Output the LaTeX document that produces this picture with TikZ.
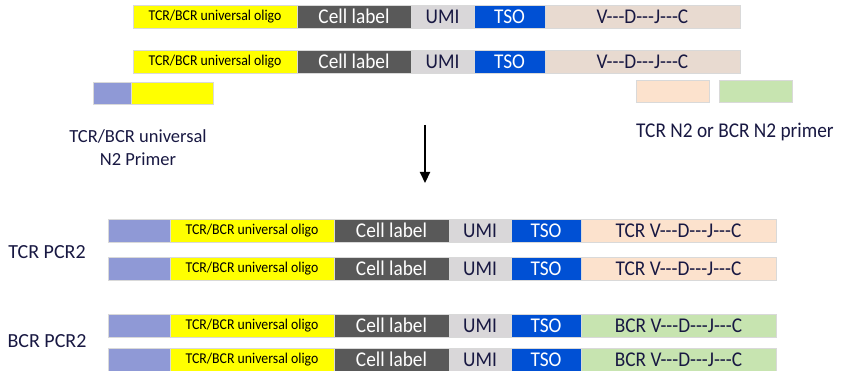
\documentclass[tikz,border=0pt]{standalone}
\usepackage{fontspec}
\setmainfont{Carlito}
\newfontfamily\barfont{Carlito}[FakeStretch=0.92]
\usetikzlibrary{arrows.meta}
\definecolor{ink}{RGB}{24,24,66}
\definecolor{cyel}{RGB}{255,255,0}
\definecolor{ccell}{RGB}{89,89,89}
\definecolor{cumi}{RGB}{217,215,217}
\definecolor{ctso}{RGB}{0,80,212}
\definecolor{cvdj}{RGB}{232,218,208}
\definecolor{cpeach}{RGB}{252,226,205}
\definecolor{cgreen}{RGB}{199,228,176}
\definecolor{cpurp}{RGB}{143,153,214}
\newcommand\seg[6]{\node[seg,#5,minimum width={(#3-#2)*1pt}] (#1) at (#2,#4) {#6};}
\newcommand\vdjc{V-{}-{}-D-{}-{}-J-{}-{}-C}
\begin{document}
\begin{tikzpicture}[x=1pt,y=-1pt,
  seg/.style={draw=black!15,line width=0.4pt,inner sep=0pt,outer sep=0pt,anchor=north west,minimum height=23pt,text=ink},
  big/.style={font=\barfont\fontsize{21}{21}\selectfont},
  yel/.style={fill=cyel,text=black,font=\barfont\fontsize{15}{15}\selectfont},
  cell/.style={fill=ccell,text=white,big},
  umi/.style={fill=cumi,big},
  tso/.style={fill=ctso,text=white,big},
  vdj/.style={fill=cvdj,big},
  tcr/.style={fill=cpeach,big},
  bcr/.style={fill=cgreen,big},
  pur/.style={fill=cpurp},
  lab/.style={text=ink,font=\fontsize{18.5}{22.5}\selectfont,inner sep=0pt,align=center}]
\useasboundingbox (0,0) rectangle (843,371);
% top rows
\foreach \r/\y in {1/5,2/50}{
  \seg{t\r y}{133}{297}{\y}{yel}{TCR/BCR universal oligo}
  \seg{t\r c}{297}{411}{\y}{cell}{Cell label}
  \seg{t\r u}{411}{474}{\y}{umi}{UMI}
  \seg{t\r t}{474}{545}{\y}{tso}{TSO}
  \seg{t\r v}{545}{740}{\y}{vdj}{\vdjc}
}
% primers
\node[seg,pur,minimum width=38pt,minimum height=22pt] (pp) at (93,82) {};
\node[seg,fill=cyel,minimum width=82pt,minimum height=22pt] (py) at (131,82) {};
\node[seg,fill=cpeach,minimum width=73pt,minimum height=22pt] (pt) at (636,80) {};
\node[seg,fill=cgreen,minimum width=73pt,minimum height=22pt] (pb) at (719,80) {};
\node[lab] (lu) at (138,147.5) {TCR/BCR universal\\N2 Primer};
\node[lab,anchor=west,font=\barfont\fontsize{21}{21}\selectfont] (ln) at (636,132) {TCR N2 or BCR N2 primer};
% arrow
\coordinate (a1) at (425,125);
\coordinate (a2) at (425,183);
\draw[line width=2.2pt,-{Triangle[length=11pt,width=10pt]}] (a1) -- (a2);
% bottom rows
\foreach \r/\y/\k/\p in {1/219/tcr/TCR,2/257/tcr/TCR,3/314/bcr/BCR,4/348/bcr/BCR}{
  \seg{b\r p}{108}{170}{\y}{pur}{}
  \seg{b\r y}{170}{334}{\y}{yel}{TCR/BCR universal oligo}
  \seg{b\r c}{334}{449}{\y}{cell}{Cell label}
  \seg{b\r u}{449}{511}{\y}{umi}{UMI}
  \seg{b\r t}{511}{581}{\y}{tso}{TSO}
  \seg{b\r v}{581}{776}{\y}{\k}{\p{} \vdjc}
}
\node[lab,font=\fontsize{20}{20}\selectfont] (lt) at (47,252) {TCR PCR2};
\node[lab,font=\fontsize{20}{20}\selectfont] (lb) at (47,341) {BCR PCR2};
\end{tikzpicture}
\end{document}
